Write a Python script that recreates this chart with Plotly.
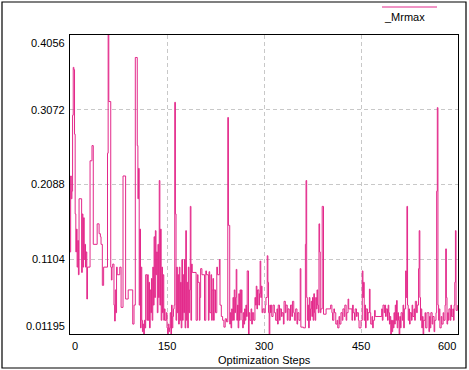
import plotly.graph_objects as go

# ---- data ----
steps = [
    0, 1, 2, 3, 4, 5, 6, 7, 8, 9, 10, 11, 12, 13, 14, 18, 19, 20, 21, 22, 23, 24, 25, 26, 27, 31, 33, 34, 36, 42,
    45, 47, 48, 50, 52, 58, 59, 60, 63, 64, 65, 66, 68, 69, 70, 71, 72, 73, 77, 79, 82, 86, 90, 97, 99, 101,
    104, 105, 106, 107, 108, 109, 110, 111, 112, 113, 114, 115, 116, 117, 119, 120,
    121, 122, 123, 124, 125, 126, 127, 128, 129, 130, 131, 132, 133, 134, 135, 136, 137, 138, 139, 140, 141,
    142, 143, 144, 145, 146, 147, 149, 150, 151, 152, 153, 154, 155, 156, 157, 158, 159, 160, 161, 162, 163,
    164, 165, 166, 167, 168, 169, 170, 171, 172, 173, 174, 175, 176, 177, 178, 179, 180, 181, 182, 183, 184,
    185, 186, 187, 188, 189, 195, 197, 198, 200, 201, 202, 204, 208, 210, 211, 214, 215, 216, 218, 219, 220,
    221, 222, 223, 225, 227, 228, 231, 232, 234, 236, 238,
    240, 242, 244, 245, 247, 248, 249, 250, 251, 252, 253, 254, 255, 256, 257, 258, 259, 260, 261, 262, 263,
    264, 265, 266, 267, 268, 269, 270, 271, 272, 273, 274, 276, 277, 278, 280, 281, 282, 284, 286, 287, 288,
    289, 290, 292, 293, 294, 295, 296, 297, 298, 300, 302, 303, 305, 306, 307, 308, 309, 310, 311, 312, 314,
    316, 318, 320, 321, 322, 324, 325, 327, 328, 330, 331, 333, 334, 336, 337, 339, 341, 343, 344, 346, 347,
    349, 351, 352, 354, 356, 357,
    361, 364, 365, 366, 367, 368, 369, 370, 371, 372, 373, 374, 375, 376, 377, 378, 379, 380, 381, 382, 383,
    384, 385, 386, 387, 388, 390, 392, 396, 403, 405, 406, 408, 409, 411, 413, 414, 416, 417, 419, 421, 422,
    424, 425, 427, 428, 430, 431, 436, 437, 438, 440, 441, 443, 444, 446, 447, 450, 452, 453, 454, 455, 456,
    457, 458, 460, 461, 463, 464, 465, 467, 468, 469, 471, 472,
    482, 483, 484, 486, 487, 488, 489, 491, 492, 493, 494, 495, 496, 497, 498, 499, 500, 501, 502, 503, 504,
    505, 506, 507, 508, 509, 510, 511, 512, 514, 515, 516, 517, 519, 520, 521, 522, 523, 524, 525, 526, 528,
    529, 530, 532, 533, 534, 536, 537, 539, 540, 541, 542, 543, 544, 545, 546, 547, 549, 550, 552, 553, 555,
    556, 557, 558, 560, 561, 563, 564, 566, 567, 568, 569, 570, 571, 572, 574, 575, 577, 578, 580, 581, 582,
    583, 584, 585, 586, 588, 589, 590, 592, 593, 594, 595, 596, 597, 599, 600,
]
mrmax = [
    0.12, 0.22, 0.19, 0.20, 0.30, 0.363, 0.36, 0.275, 0.17, 0.12, 0.15, 0.10, 0.135, 0.09, 0.19, 0.093, 0.17, 0.10, 0.165, 0.11, 0.13, 0.10, 0.12, 0.058, 0.10, 0.24, 0.24, 0.26, 0.13, 0.157,
    0.144, 0.14, 0.13, 0.076, 0.10, 0.25, 0.4056, 0.318, 0.10, 0.083, 0.10, 0.104, 0.05, 0.029, 0.07, 0.04, 0.10, 0.09, 0.10, 0.047, 0.22, 0.058, 0.07, 0.025, 0.05, 0.376,
    0.26, 0.19, 0.23, 0.05, 0.15, 0.02, 0.10, 0.03, 0.015, 0.025, 0.012, 0.03, 0.02, 0.09, 0.03, 0.09,
    0.03, 0.08, 0.02, 0.07, 0.04, 0.085, 0.03, 0.10, 0.05, 0.14, 0.06, 0.148, 0.09, 0.12, 0.04, 0.13, 0.06, 0.214, 0.05, 0.15,
    0.03, 0.10, 0.04, 0.09, 0.03, 0.045, 0.03, 0.04, 0.02, 0.012, 0.025, 0.015, 0.02, 0.04, 0.012, 0.05, 0.02, 0.035, 0.045, 0.05, 0.317,
    0.17, 0.03, 0.10, 0.04, 0.09, 0.025, 0.10, 0.03, 0.08, 0.02, 0.11, 0.03, 0.09, 0.04, 0.11, 0.02, 0.148, 0.03, 0.08, 0.02, 0.10,
    0.04, 0.07, 0.18, 0.03, 0.104, 0.093, 0.03, 0.09, 0.08, 0.03, 0.06, 0.098, 0.09, 0.03, 0.095, 0.09, 0.03, 0.094, 0.04, 0.09, 0.03,
    0.07, 0.085, 0.03, 0.07, 0.04, 0.10, 0.09, 0.11, 0.05, 0.035, 0.03,
    0.021, 0.032, 0.028, 0.297, 0.155, 0.025, 0.04, 0.02, 0.045, 0.03, 0.06, 0.03, 0.07, 0.04, 0.06, 0.097, 0.03, 0.05, 0.02, 0.065, 0.03,
    0.07, 0.04, 0.07, 0.03, 0.02, 0.04, 0.025, 0.045, 0.03, 0.05, 0.035, 0.095, 0.012, 0.04, 0.03, 0.045, 0.025, 0.04, 0.03, 0.06, 0.05,
    0.075, 0.045, 0.07, 0.05, 0.065, 0.108, 0.06, 0.075, 0.04, 0.045, 0.04, 0.05, 0.06, 0.115, 0.08, 0.04, 0.012, 0.05, 0.04, 0.05, 0.035,
    0.05, 0.04, 0.03, 0.045, 0.025, 0.05, 0.03, 0.045, 0.035, 0.04, 0.025, 0.055, 0.04, 0.05, 0.03, 0.045, 0.03, 0.05, 0.035, 0.055, 0.04,
    0.03, 0.045, 0.025, 0.04, 0.03, 0.098,
    0.021, 0.02, 0.13, 0.214, 0.06, 0.03, 0.05, 0.02, 0.06, 0.03, 0.045, 0.055, 0.035, 0.06, 0.03, 0.065, 0.04, 0.03, 0.06, 0.045, 0.07,
    0.05, 0.04, 0.157, 0.12, 0.04, 0.045, 0.18, 0.038, 0.045, 0.05, 0.04, 0.03, 0.045, 0.04, 0.025, 0.03, 0.02, 0.035, 0.025, 0.04, 0.03,
    0.045, 0.035, 0.05, 0.03, 0.04, 0.058, 0.045, 0.03, 0.05, 0.04, 0.03, 0.045, 0.035, 0.04, 0.03, 0.02, 0.03, 0.095, 0.06, 0.08, 0.03,
    0.05, 0.02, 0.045, 0.03, 0.04, 0.071, 0.04, 0.025, 0.035, 0.02, 0.03, 0.043,
    0.035, 0.045, 0.03, 0.05, 0.04, 0.05, 0.035, 0.045, 0.03, 0.05, 0.04, 0.025, 0.035, 0.012, 0.03, 0.015, 0.03, 0.02, 0.04, 0.025, 0.05,
    0.03, 0.056, 0.02, 0.04, 0.03, 0.012, 0.035, 0.02, 0.04, 0.03, 0.05, 0.02, 0.045, 0.095, 0.06, 0.18, 0.05, 0.03, 0.045, 0.025, 0.04,
    0.03, 0.05, 0.035, 0.045, 0.03, 0.055, 0.04, 0.05, 0.098, 0.148, 0.06, 0.03, 0.045, 0.02, 0.035, 0.012, 0.03, 0.04, 0.02, 0.04, 0.04,
    0.015, 0.035, 0.02, 0.04, 0.025, 0.035, 0.015, 0.03, 0.04, 0.2, 0.31, 0.05, 0.03, 0.045, 0.02, 0.035, 0.025, 0.04, 0.03, 0.05, 0.124,
    0.06, 0.025, 0.04, 0.03, 0.045, 0.03, 0.05, 0.035, 0.045, 0.03, 0.05, 0.08, 0.148, 0.043, 0.05,
]
x_ticks = [0, 150, 300, 450, 600]
x_tick_labels = ["0", "150", "300", "450", "600"]
y_ticks = [0.01195, 0.1104, 0.2088, 0.3072, 0.4056]
y_tick_labels = ["0.01195", "0.1104", "0.2088", "0.3072", "0.4056"]
series_name = "_Mrmax"
x_title = "Optimization Steps"

LINE_COLOR = "#E3288A"
GRID_COLOR = "#C8C8C8"
FONT = "Liberation Sans"

fig = go.Figure()
fig.add_trace(go.Scatter(
    x=steps, y=mrmax, mode="lines", line=dict(color=LINE_COLOR, width=1, shape="hv"),
    name=series_name, showlegend=False, hoverinfo="skip",
))

W, H = 469, 370
L, R, T, B = 70, 11, 35, 36
pw, ph = W - L - R, H - T - B

def px_x(p):
    return (p - L) / pw

def px_y(p):
    return (H - B - p) / ph

axis_common = dict(showticklabels=False, showgrid=True, gridcolor=GRID_COLOR, griddash="4px,3px",
                   gridwidth=1, showline=True, linecolor="black", linewidth=1.2, mirror=True,
                   zeroline=False, ticks="", fixedrange=True)
fig.update_layout(
    width=W, height=H,
    margin=dict(l=L, r=R, t=T, b=B, pad=0),
    paper_bgcolor="white", plot_bgcolor="white",
    font=dict(family=FONT, size=11, color="black"),
    xaxis=dict(range=[x_ticks[0], x_ticks[-1]], tickvals=x_ticks, **axis_common),
    yaxis=dict(range=[y_ticks[0], y_ticks[-1]], tickvals=y_ticks, **axis_common),
)

annotations = []
for i, (v, t) in enumerate(zip(x_ticks, x_tick_labels)):
    anchor = "left" if i == 0 else ("right" if i == len(x_ticks) - 1 else "center")
    annotations.append(dict(x=v, y=px_y(338), xref="x", yref="paper", text=t, showarrow=False,
                            xanchor=anchor, yanchor="top", font=dict(size=11)))
for i, (v, t) in enumerate(zip(y_ticks, y_tick_labels)):
    anchor = "bottom" if i == 0 else ("top" if i == len(y_ticks) - 1 else "middle")
    annotations.append(dict(x=px_x(67), y=v, xref="paper", yref="y", text=t, showarrow=False,
                            xanchor="right", yanchor=anchor, font=dict(size=11)))
annotations.append(dict(x=0.5, y=px_y(352), xref="paper", yref="paper", text=x_title,
                        showarrow=False, xanchor="center", yanchor="top", font=dict(size=11)))
annotations.append(dict(x=px_x(382), y=px_y(9), xref="paper", yref="paper", text=series_name,
                        showarrow=False, xanchor="left", yanchor="top", font=dict(size=11)))
fig.update_layout(annotations=annotations)

fig.update_layout(shapes=[
    dict(type="rect", xref="paper", yref="paper", x0=px_x(2), x1=px_x(466), y0=px_y(368), y1=px_y(2),
         line=dict(color="black", width=1.2), layer="below"),
    dict(type="line", xref="paper", yref="paper", x0=px_x(382), x1=px_x(437), y0=px_y(7), y1=px_y(7),
         line=dict(color=LINE_COLOR, width=1)),
])

fig.write_html("out.html", config={"displayModeBar": False, "staticPlot": True},
               post_script="document.body.style.margin='0';document.body.style.overflow='hidden';")
